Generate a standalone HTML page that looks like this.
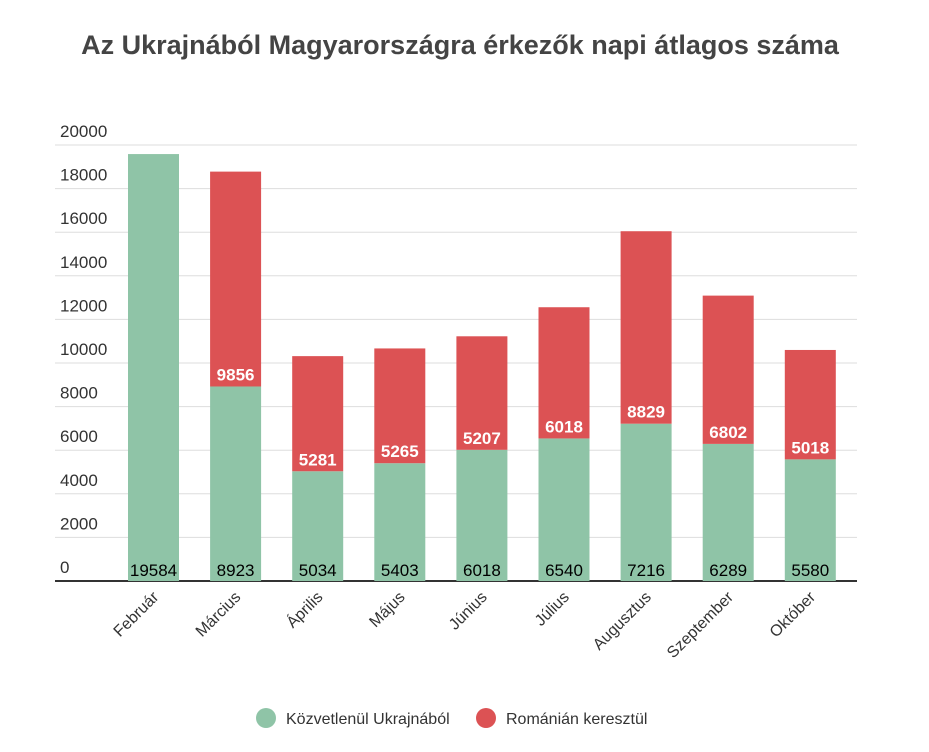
<!DOCTYPE html>
<html><head><meta charset="utf-8"><style>
body{margin:0;background:#fff;font-family:"Liberation Sans",sans-serif}
</style></head><body>
<svg width="929" height="747" xmlns="http://www.w3.org/2000/svg" font-family="Liberation Sans, sans-serif">
<text x="460" y="54" text-anchor="middle" font-size="27" font-weight="bold" fill="#444">Az Ukrajnából Magyarországra érkezők napi átlagos száma</text>
<g id="grid"></g><g id="bars"></g><g id="xl"></g>
<g>
<circle cx="266" cy="718" r="10" fill="#8fc4a7"/>
<text x="286" y="724" font-size="16" fill="#333">Közvetlenül Ukrajnából</text>
<circle cx="486" cy="718" r="10" fill="#dc5254"/>
<text x="506" y="724" font-size="16" fill="#333">Románián keresztül</text>
</g>
</svg>
<script>
const categories=["Február","Március","Április","Május","Június","Július","Augusztus","Szeptember","Október"];
const direct=[19584,8923,5034,5403,6018,6540,7216,6289,5580];
const romania=[0,9856,5281,5265,5207,6018,8829,6802,5018];
const yTicks=[0,2000,4000,6000,8000,10000,12000,14000,16000,18000,20000];
const NS="http://www.w3.org/2000/svg";
const y0=581,yTop=145,yMax=20000;
const y=v=>y0-(v/yMax)*(y0-yTop);
const x=i=>153.5+i*82.1;
const bw=51;
function mk(t,a,p,txt){const e=document.createElementNS(NS,t);for(const k in a)e.setAttribute(k,a[k]);if(txt!==undefined)e.textContent=txt;p.appendChild(e);return e;}
const g=document.getElementById('grid'),b=document.getElementById('bars'),xl=document.getElementById('xl');
yTicks.forEach(v=>{
 const l=mk('line',{x1:55,x2:857,y1:y(v),y2:y(v),stroke:v===0?'#333':'#ddd','stroke-width':v===0?2:1},g);
 
 
 const t=mk('text',{x:60,y:y(v)-8,'font-size':17,fill:'#333'},g,String(v));
 
 
});
categories.forEach((c,i)=>{
 const cx=x(i);
 const r1=mk('rect',{x:cx-bw/2,y:y(direct[i]),width:bw,height:y0-y(direct[i]),fill:'#8fc4a7'},b);
 
 
 if(romania[i]>0){
  const r2=mk('rect',{x:cx-bw/2,y:y(direct[i]+romania[i]),width:bw,height:y(direct[i])-y(direct[i]+romania[i]),fill:'#dc5254'},b);
  
  
  const t2=mk('text',{x:cx,y:y(direct[i])-6,'text-anchor':'middle','font-size':17,'font-weight':'bold',fill:'#fff'},b,String(romania[i]));
  
  
 }
 const t1=mk('text',{x:cx,y:576,'text-anchor':'middle','font-size':17,fill:'#000'},b,String(direct[i]));
 
 
 const lx=cx+6,ly=598;
 const t=mk('text',{x:lx,y:ly,'text-anchor':'end','font-size':16,fill:'#333',transform:`rotate(-45 ${lx} ${ly})`},xl,c);
 
 
});
</script>
</body></html>
